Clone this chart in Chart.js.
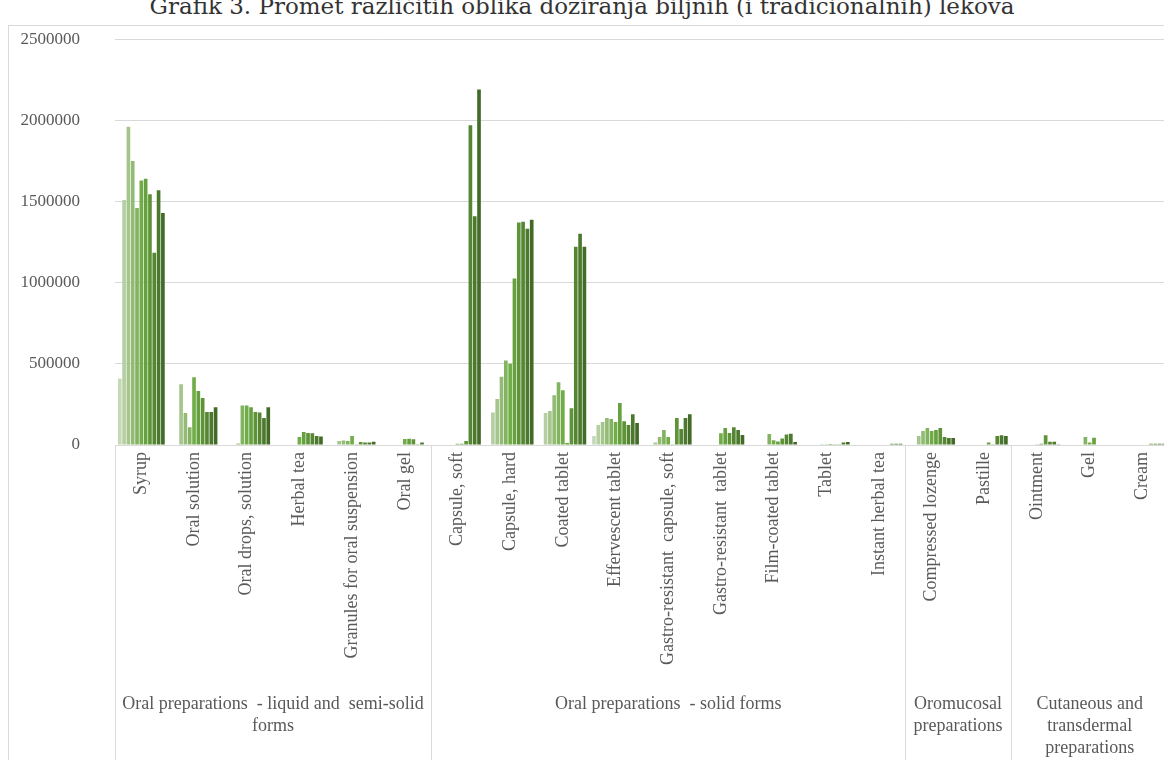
<!DOCTYPE html>
<html>
<head>
<meta charset="utf-8">
<script src="https://cdn.jsdelivr.net/npm/chart.js@4/dist/chart.umd.min.js"></script>
<style>
  html, body { margin: 0; padding: 0; background: #fff; overflow: hidden; width: 1164px; height: 760px; }
  #title {
    position: absolute; left: 0; top: -9px; width: 1164px; text-align: center;
    font-family: "DejaVu Serif", serif; font-size: 23px; line-height: 30px; color: #333; white-space: nowrap;
  }
  #frame {
    position: absolute; left: 8px; top: 25px; width: 1300px; height: 900px;
    border: 1px solid #d9d9d9; box-sizing: border-box;
  }
  #wrap { position: absolute; left: 0; top: -6px; width: 1171px; height: 766px; }
</style>
</head>
<body>
<div id="frame"></div>
<div id="title">Grafik 3. Promet različitih oblika doziranja biljnih (i tradicionalnih) lekova</div>
<div id="wrap"><canvas id="chart"></canvas></div>
<script>
// dosage forms (inner axis level)
const categories = [
  'Syrup', 'Oral solution', 'Oral drops, solution', 'Herbal tea', 'Granules for oral suspension', 'Oral gel',
  'Capsule, soft', 'Capsule, hard', 'Coated tablet', 'Effervescent tablet', 'Gastro-resistant  capsule, soft',
  'Gastro-resistant  tablet', 'Film-coated tablet', 'Tablet', 'Instant herbal tea',
  'Compressed lozenge', 'Pastille',
  'Ointment', 'Gel', 'Cream'
];

// outer axis level: label lines + first category index
const groupLabels = [
  ['Oral preparations  - liquid and  semi-solid', 'forms'],
  ['Oral preparations  - solid forms'],
  ['Oromucosal', 'preparations'],
  ['Cutaneous and', 'transdermal', 'preparations']
];
const groupStarts = [0, 6, 15, 17];

// one array per series, values in category order
const series01 = [410000, 0, 0, 0, 0, 0, 0, 0, 0, 55000, 0, 0, 0, 0, 0, 0, 0, 0, 0, 0];
const series02 = [1510000, 0, 3000, 0, 3000, 0, 0, 200000, 197000, 123000, 0, 0, 0, 0, 0, 0, 0, 0, 0, 0];
const series03 = [1960000, 375000, 3000, 0, 25000, 0, 0, 283000, 209000, 141000, 15000, 0, 0, 0, 0, 55000, 0, 0, 0, 0];
const series04 = [1750000, 197000, 10000, 0, 28000, 0, 0, 420000, 307000, 166000, 50000, 0, 0, 0, 0, 86000, 0, 0, 0, 0];
const series05 = [1460000, 110000, 243000, 0, 25000, 0, 0, 520000, 387000, 160000, 92000, 0, 68000, 5000, 0, 104000, 0, 0, 50000, 0];
const series06 = [1630000, 418000, 243000, 50000, 55000, 37000, 8000, 500000, 338000, 141000, 50000, 72000, 30000, 5000, 0, 86000, 0, 5000, 15000, 0];
const series07 = [1640000, 332000, 233000, 80000, 5000, 38000, 8000, 1026000, 12000, 258000, 5000, 104000, 22000, 6000, 0, 92000, 15000, 8000, 45000, 0];
const series08 = [1545000, 289000, 203000, 74000, 18000, 36000, 25000, 1370000, 227000, 147000, 166000, 74000, 40000, 5000, 0, 104000, 5000, 60000, 0, 8000];
const series09 = [1185000, 203000, 200000, 72000, 15000, 5000, 1970000, 1376000, 1222000, 123000, 98000, 110000, 65000, 4000, 8000, 50000, 55000, 20000, 0, 8000];
const series10 = [1570000, 203000, 166000, 55000, 15000, 15000, 1410000, 1333000, 1302000, 190000, 166000, 92000, 70000, 16000, 8000, 43000, 60000, 20000, 0, 8000];
const series11 = [1430000, 233000, 233000, 52000, 20000, 0, 2190000, 1388000, 1222000, 135000, 190000, 61000, 18000, 18000, 8000, 43000, 55000, 5000, 0, 8000];

const allSeries = [series01, series02, series03, series04, series05, series06, series07, series08, series09, series10, series11];
const seriesColors = ['#c5d9b8', '#b5cfa2', '#a4c58c', '#93bb76', '#82b35f', '#70ad47', '#66a03f', '#5e9338', '#558633', '#4c792d', '#426b27'];

const yTicks = [0, 500000, 1000000, 1500000, 2000000, 2500000];

const serif = '"Liberation Serif", "Times New Roman", serif';
const yFont = { family: serif, size: 17 };
const xFont = { family: serif, size: 18 };
const axisColor = '#595959';
const lineColor = '#d9d9d9';

const groupAxisPlugin = {
  id: 'groupAxis',
  afterDraw(chart) {
    const { ctx, chartArea } = chart;
    const xScale = chart.scales.x;
    const n = categories.length;
    const boundary = (i) => {
      if (i <= 0) return xScale.left;
      if (i >= n) return xScale.right;
      return (xScale.getPixelForTick(i - 1) + xScale.getPixelForTick(i)) / 2;
    };
    ctx.save();
    ctx.strokeStyle = lineColor;
    ctx.lineWidth = 1;
    groupStarts.forEach((start) => {
      const x = Math.round(boundary(start)) + 0.5;
      ctx.beginPath();
      ctx.moveTo(x, chartArea.bottom);
      ctx.lineTo(x, chart.height);
      ctx.stroke();
    });
    ctx.fillStyle = axisColor;
    ctx.font = `${xFont.size}px ${xFont.family}`;
    ctx.textAlign = 'center';
    ctx.textBaseline = 'middle';
    groupLabels.forEach((lines, g) => {
      const left = boundary(groupStarts[g]);
      const right = boundary(g + 1 < groupStarts.length ? groupStarts[g + 1] : n);
      const cx = (left + right) / 2;
      lines.forEach((line, k) => {
        ctx.fillText(line, cx, chartArea.bottom + 259 + k * 22);
      });
    });
    ctx.restore();
  }
};

new Chart(document.getElementById('chart'), {
  type: 'bar',
  data: {
    labels: categories,
    datasets: allSeries.map((values, i) => ({
      label: 'Series ' + (i + 1),
      data: values,
      backgroundColor: seriesColors[i],
      borderWidth: 0,
      categoryPercentage: 0.9,
      barPercentage: 0.85
    }))
  },
  options: {
    responsive: true,
    maintainAspectRatio: false,
    animation: false,
    layout: { padding: { top: 23, left: 0, right: 0, bottom: 0 } },
    plugins: {
      legend: { display: false },
      tooltip: { enabled: false }
    },
    scales: {
      x: {
        grid: { display: false, drawTicks: false },
        border: { display: false },
        ticks: {
          autoSkip: false,
          minRotation: 90,
          maxRotation: 90,
          padding: 7,
          color: axisColor,
          font: xFont
        },
        afterFit(scale) { scale.height = 315; }
      },
      y: {
        min: 0,
        max: 2500000,
        grid: { color: lineColor, drawTicks: false },
        border: { display: false },
        afterBuildTicks(scale) { scale.ticks = yTicks.map((v) => ({ value: v })); },
        ticks: {
          padding: 35,
          color: axisColor,
          font: yFont,
          callback: (v) => String(v)
        },
        afterFit(scale) { scale.width = 115; }
      }
    }
  },
  plugins: [groupAxisPlugin]
});
</script>
</body>
</html>
